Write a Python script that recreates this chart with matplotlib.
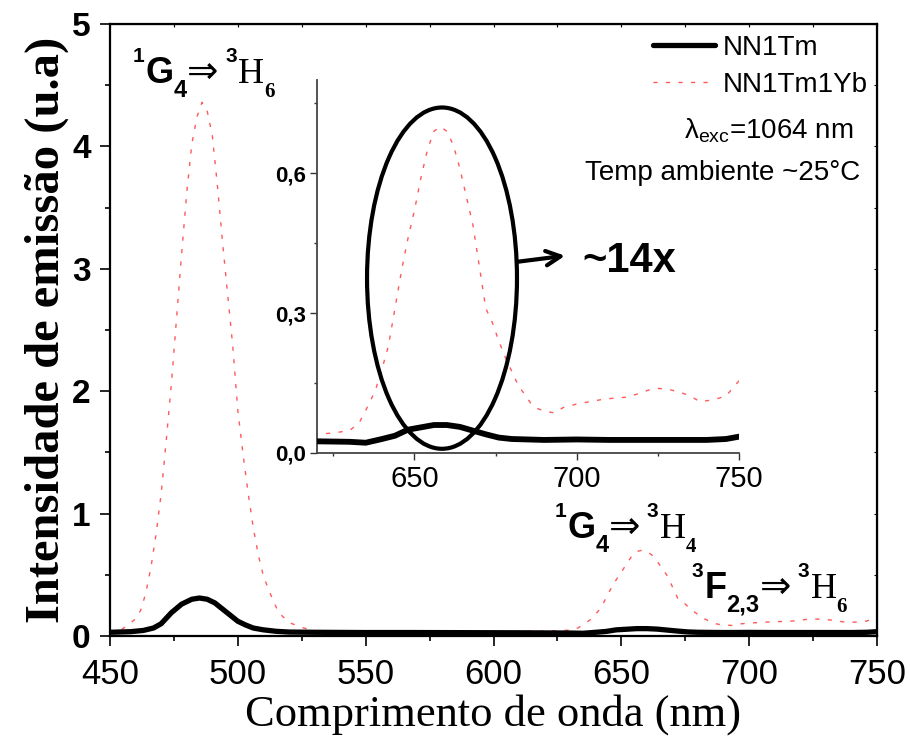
import numpy as np
import matplotlib
matplotlib.use("Agg")
import matplotlib.pyplot as plt
from matplotlib.patches import Ellipse

plt.rcParams['font.family'] = ['Liberation Sans', 'DejaVu Sans']
plt.rcParams['mathtext.fontset'] = 'custom'
plt.rcParams['mathtext.rm'] = 'Liberation Sans'
plt.rcParams['mathtext.sf'] = 'Liberation Sans'

# emission spectra, exc. 1064 nm
wl_tm = [450, 458, 463, 467, 470, 474, 478, 482, 485, 488, 491, 494, 497, 500,
         503, 506, 510, 515, 520, 530, 550, 570, 590, 610, 620, 630, 635, 640,
         644, 648, 652, 656, 660, 664, 668, 672, 676, 680, 690, 700, 710, 720,
         730, 740, 746, 750]
int_tm = [0.03, 0.035, 0.045, 0.065, 0.10, 0.19, 0.26, 0.30, 0.31, 0.30, 0.27,
          0.22, 0.17, 0.12, 0.09, 0.065, 0.05, 0.038, 0.032, 0.03, 0.028, 0.028,
          0.027, 0.026, 0.025, 0.024, 0.022, 0.03, 0.037, 0.05, 0.055, 0.06,
          0.06, 0.056, 0.048, 0.04, 0.033, 0.03, 0.028, 0.029, 0.028, 0.028,
          0.028, 0.028, 0.03, 0.035]

wl_tmyb = [450, 453, 457, 460, 462, 464, 466, 468, 470, 472, 474, 476, 478, 480,
           482, 484, 486, 488, 490, 492, 494, 496, 498, 500, 502, 504, 506, 508,
           510, 512, 514, 516, 520, 525, 530, 540, 560, 580, 600, 620, 625, 630,
           633, 636, 638, 640, 642, 644, 646, 648, 650, 652, 654, 656, 658, 660,
           662, 664, 666, 668, 670, 672, 674, 676, 678, 680, 682, 684, 686, 688,
           690, 693, 696, 700, 704, 708, 712, 716, 720, 724, 728, 732, 735, 738,
           742, 746, 750]
int_tmyb = [0.03, 0.03, 0.09, 0.14, 0.21, 0.35, 0.56, 0.83, 1.16, 1.60, 2.06,
            2.59, 3.12, 3.62, 4.02, 4.24, 4.36, 4.29, 4.09, 3.68, 3.22, 2.79,
            2.37, 1.84, 1.49, 1.17, 0.89, 0.66, 0.49, 0.38, 0.28, 0.19, 0.11,
            0.07, 0.04, 0.035, 0.035, 0.035, 0.035, 0.04, 0.043, 0.048, 0.065,
            0.105, 0.135, 0.18, 0.23, 0.31, 0.39, 0.46, 0.52, 0.59, 0.65, 0.69,
            0.70, 0.69, 0.66, 0.61, 0.55, 0.49, 0.40, 0.31, 0.28, 0.24, 0.205,
            0.175, 0.145, 0.125, 0.105, 0.095, 0.09, 0.086, 0.098, 0.105, 0.11,
            0.115, 0.118, 0.12, 0.13, 0.139, 0.137, 0.13, 0.122, 0.11, 0.114,
            0.122, 0.155]

red = '#ff5a5a'
dash = (0, (3, 6))

SANS_B = dict(family='Liberation Sans', fontweight='bold')
SERIF = dict(family='Liberation Serif')
SERIF_B = dict(family='Liberation Serif', fontweight='bold')
ARROW = dict(family='DejaVu Sans')


def level(lo, main, sub, hi, hmain, hsub):
    # pieces for a "^aX_b => ^cY_d" transition label
    # (text, size, props, dy in points, gap in points before the piece)
    return [(lo, 15, SANS_B, 15, 0),
            (main, 26, SANS_B, 0, 0.5),
            (sub, 17, SANS_B, -10, 0),
            ('⇒', 27, ARROW, 0, 0),
            (hi, 15, SANS_B, 15, 5),
            (hmain, 26, SERIF, 0, 1),
            (hsub, 15, SERIF_B, -10, 0)]


def chain(ax, x, y, parts):
    r = fig.canvas.get_renderer()
    off = 0.0
    for txt, size, props, dy, gap in parts:
        off += gap
        t = ax.annotate(txt, xy=(x, y), xytext=(off, dy),
                        textcoords='offset points', fontsize=size,
                        va='baseline', ha='left', **props)
        off += t.get_window_extent(r).width * 72 / fig.dpi


fig = plt.figure(figsize=(9.1, 7.42), dpi=100)
ax = fig.add_axes([0.1209, 0.1429, 0.8429, 0.8248])

ax.plot(wl_tm, int_tm, color='black', lw=3.8, label='NN1Tm',
        solid_capstyle='round', zorder=3)
ax.plot(wl_tmyb, int_tmyb, color=red, lw=1.0, ls=dash, label='NN1Tm1Yb',
        zorder=2)

ax.set_xlim(450, 750)
ax.set_ylim(0, 5)
ax.set_xticks(np.arange(450, 751, 50))
ax.set_xticks(np.arange(450, 751, 25), minor=True)
ax.set_yticks(np.arange(0, 6, 1))
ax.set_yticks(np.arange(0, 5.01, 0.5), minor=True)
for s in ax.spines.values():
    s.set_linewidth(1.6)
ax.tick_params(which='both', direction='out', width=1.2, top=False, right=False)
ax.tick_params(which='major', length=7, pad=9)
ax.tick_params(which='minor', length=3.5)
ax.tick_params(axis='x', labelsize=25)
ax.tick_params(axis='y', labelsize=24, pad=7)
for t in ax.get_yticklabels():
    t.set_fontweight('bold')

# small inward ticks on top and right frame
ax2 = ax.secondary_xaxis('top')
ax2.set_xticks(np.arange(450, 751, 25))
ax2.tick_params(direction='in', length=2.5, width=0.8, labeltop=False)
ax3 = ax.secondary_yaxis('right')
ax3.set_yticks(np.arange(0, 5.01, 0.5))
ax3.tick_params(direction='in', length=2.5, width=0.8, labelright=False)

ax.set_xlabel('Comprimento de onda (nm)', family='Liberation Serif',
              fontsize=32, labelpad=2)
ax.set_ylabel('Intensidade de emissão (u.a)', family='Liberation Serif',
              fontsize=35, fontweight='bold', labelpad=2)

leg = ax.legend(loc='upper right', bbox_to_anchor=(0.988, 0.982), frameon=False,
                fontsize=20, handlelength=2.2, handletextpad=0.3,
                labelspacing=0.4, borderpad=0, borderaxespad=0)

ax.text(0.969, 0.814, 'λ${}_{\\mathrm{exc}}$=1064 nm', transform=ax.transAxes,
        ha='right', va='baseline', fontsize=20)
ax.text(0.978, 0.745, 'Temp ambiente ~25°C', transform=ax.transAxes,
        ha='right', va='baseline', fontsize=20)

chain(ax, 459, 4.52, level('1', 'G', '4', '3', 'H', '6'))
chain(ax, 624, 0.80, level('1', 'G', '4', '3', 'H', '4'))
chain(ax, 677.6, 0.31, level('3', 'F', '2,3', '3', 'H', '6'))

# inset: zoom on the red band
ins = fig.add_axes([0.3484, 0.3895, 0.4637, 0.5027])
ins.patch.set_alpha(0)
ins.plot(wl_tm, int_tm, color='black', lw=4.2, zorder=3)
ins.plot(wl_tmyb, int_tmyb, color=red, lw=1.0, ls=dash, zorder=2)
ins.set_xlim(620, 750)
ins.set_ylim(0, 0.8)
ins.set_xticks([650, 700, 750])
ins.set_xticks(np.arange(625, 751, 25), minor=True)
ins.set_yticks([0.0, 0.3, 0.6])
ins.set_yticks([0.15, 0.45, 0.75], minor=True)
ins.set_yticklabels(['0,0', '0,3', '0,6'], fontweight='bold', fontsize=16)
ins.tick_params(axis='x', labelsize=21, pad=4)
ins.tick_params(axis='y', pad=3)
ins.tick_params(which='major', length=5, width=1.0, color='#333333')
ins.tick_params(which='minor', length=2.5, width=1.0, color='#333333')
ins.spines['top'].set_visible(False)
ins.spines['right'].set_visible(False)
for side in ('left', 'bottom'):
    ins.spines[side].set_linewidth(1.3)
    ins.spines[side].set_color('#444444')

ins.add_patch(Ellipse((658.5, 0.375), 46.2, 0.732, fill=False, lw=3,
                      ec='black', clip_on=False, zorder=4))
ins.annotate('', xy=(696.4, 0.423), xytext=(681.6, 0.41),
             arrowprops=dict(arrowstyle='->', lw=3, color='black',
                             mutation_scale=26, shrinkA=0, shrinkB=0),
             annotation_clip=False)
ins.text(701.6, 0.388, '~14x', fontsize=30, fontweight='bold', va='baseline')

fig.savefig('out.png', dpi=100)
